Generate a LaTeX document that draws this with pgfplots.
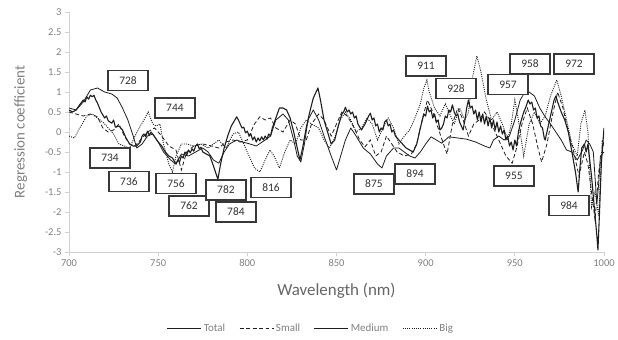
\documentclass[border=0pt]{standalone}
\usepackage{pgfplots}
\pgfplotsset{compat=1.18}
\usepackage{fontspec}
\setmainfont{Carlito}
\definecolor{tickgray}{HTML}{7F7F7F}
\definecolor{axgray}{HTML}{D0D0D0}
\definecolor{ln}{HTML}{1E1E1E}
\definecolor{boxc}{HTML}{383838}
\begin{document}
\begin{tikzpicture}
\useasboundingbox (-69bp,-88bp) rectangle (549bp,252bp);
\begin{axis}[
  at={(0,0)}, anchor=south west,
  scale only axis, width=535bp, height=240bp,
  xmin=700, xmax=1000, ymin=-3, ymax=3,
  xtick={700,750,...,1000},
  ytick={-3,-2.5,...,3},
  xticklabel style={/pgf/number format/set thousands separator={}},
  yticklabel style={/pgf/number format/fixed, /pgf/number format/precision=1},
  /pgf/number format/assume math mode=true,
  axis x line=bottom, axis y line=left,
  axis line style={-, draw=axgray, line width=0.8pt},
  tick style={draw=axgray, line width=0.8pt},
  major tick length=4bp, tick align=outside,
  ticklabel style={font=\fontsize{10.5}{12}\selectfont, text=tickgray},
  xlabel={Wavelength (nm)},
  ylabel={Regression coefficient},
  xlabel style={font=\fontsize{17}{20}\selectfont, text=tickgray!80!black, at={(axis description cs:0.5,-0.16)}, anchor=center},
  ylabel style={font=\fontsize{15}{18}\selectfont, text=tickgray, at={(axis description cs:-0.09,0.5)}, anchor=center},
  legend columns=4,
  legend style={at={(0.452,-0.317)}, anchor=center, draw=none, fill=none,
    font=\fontsize{11}{13}\selectfont, text=tickgray,
    /tikz/every even column/.append style={column sep=12bp}},
  legend image code/.code={\draw[#1] (0bp,0bp) -- (34bp,0bp);},
]
% Total
\addplot[ln, line width=1.1pt, line join=round] coordinates {
(700,0.55)(702,0.5)(704,0.55)(706,0.68)(708,0.8)(709,0.75)(710,0.88)(711,0.82)(712,0.92)(713,0.88)(714,0.92)(715,0.8)(716,0.72)(718,0.5)(720,0.35)(721,0.4)(722,0.28)(724,0.22)(725,0.3)(726,0.12)(728,0.15)(730,0.05)(732,-0.15)(734,-0.3)(736,-0.35)(738,-0.35)(740,-0.25)(741,-0.1)(742,-0.05)(743,-0.12)(744,0.02)(745,-0.08)(746,0.0)(748,-0.12)(750,-0.25)(752,-0.35)(754,-0.5)(756,-0.6)(758,-0.65)(760,-0.8)(761,-0.7)(762,-0.75)(763,-0.6)(764,-0.65)(765,-0.5)(766,-0.58)(767,-0.45)(768,-0.52)(769,-0.42)(770,-0.48)(771,-0.35)(772,-0.3)(773,-0.42)(774,-0.38)(775,-0.5)(777,-0.55)(779,-0.6)(781,-0.85)(782.5,-1.05)(783.5,-1.18)(785,-0.8)(787,-0.4)(789,-0.1)(791,0.15)(793,0.3)(794,0.38)(795,0.3)(796,0.2)(797,0.1)(798,0.12)(799,-0.02)(800,0.02)(801,-0.1)(802,-0.05)(803,-0.2)(804,-0.12)(805,-0.25)(806,-0.15)(807,-0.22)(808,-0.12)(809,-0.2)(810,-0.1)(811,-0.18)(812,-0.05)(813,-0.1)(814,0.1)(816,0.35)(818,0.6)(820,0.6)(822,0.55)(824,0.35)(826,0.0)(828,-0.4)(829.5,-0.7)(831,-0.4)(833,0.1)(835,0.5)(837,0.85)(839.6,1.1)(841,0.8)(843,0.3)(845,0.0)(847,-0.3)(849,-0.2)(851,0.15)(853,0.45)(854,0.5)(855,0.62)(856,0.5)(857,0.55)(858,0.45)(859,0.5)(860,0.35)(861,0.4)(862,0.2)(864,0.05)(866,0.2)(868,0.4)(869,0.47)(870,0.3)(871,0.35)(872,0.15)(873,0.2)(874,0.0)(875,0.1)(876,0.05)(877,0.25)(878,0.3)(879,0.15)(880,0.2)(881,0.0)(882,0.05)(883,-0.1)(885,-0.2)(887,-0.3)(889,-0.4)(891,-0.45)(893,-0.5)(895,-0.3)(897,0.1)(899,0.45)(900,0.4)(901,0.65)(902,0.5)(903,0.55)(904,0.35)(905,0.45)(906,0.25)(907,0.3)(908,0.05)(909,0.1)(910,0.2)(911,0.4)(912,0.35)(913,0.55)(914,0.5)(915,0.68)(916,0.5)(917,0.4)(918,0.45)(919,0.25)(920,0.15)(921,0.05)(922,0.3)(923,0.6)(924,0.8)(925,0.6)(926,0.65)(927,0.45)(928,0.55)(929,0.3)(930,0.5)(931,0.25)(932,0.45)(933,0.2)(934,0.4)(935,0.15)(936,0.35)(937,0.1)(938,0.3)(939,0.05)(940,0.25)(941,0.0)(942,0.15)(943,-0.05)(944,0.05)(945,-0.2)(946,-0.1)(947,-0.35)(948,-0.25)(949,-0.45)(950,-0.2)(951,-0.35)(952,0.0)(953,0.2)(954,0.35)(955,0.5)(956,0.6)(957.5,0.8)(958.5,0.7)(959.5,0.75)(960.5,0.55)(961.5,0.6)(962.5,0.35)(963.5,0.4)(964.5,0.15)(965.5,0.1)(966.5,-0.15)(967,-0.2)(968,0.0)(970,0.4)(972,0.8)(973,0.9)(974,0.75)(976,0.5)(978,0.3)(980,0.0)(982,-0.5)(984,-1.0)(985.5,-1.5)(986.5,-0.9)(987.5,-0.4)(989,-0.3)(990,-0.5)(991,-0.3)(992,-0.7)(993,-1.1)(994,-1.6)(995,-2.1)(996,-2.6)(996.6,-2.95)(997.5,-2.0)(998.5,-0.8)(999.5,-0.2)(1000,0.1)
};
\addlegendentry{Total}
% Small
\addplot[ln, line width=0.8pt, dash pattern=on 4pt off 2.5pt] coordinates {
(700,0.5)(704,0.45)(708,0.4)(712,0.45)(716,0.38)(719,0.1)(722,0.0)(725,0.05)(728,0.2)(731,-0.1)(734,-0.3)(737,-0.35)(740,-0.2)(744,0.0)(748,0.1)(752,-0.1)(756,-0.35)(760,-0.45)(763,-0.95)(766,-0.5)(770,-0.35)(775,-0.3)(780,-0.35)(784,-0.4)(788,-0.25)(792,-0.2)(796,-0.25)(800,-0.2)(804,0.2)(807,0.38)(810,0.3)(813,0.35)(816,0.1)(820,0.0)(824,0.3)(827,0.2)(830,-0.2)(833,-0.2)(836,0.2)(840,0.45)(843,0.3)(847,-0.1)(850,0.2)(853,0.5)(856,0.4)(860,0.1)(863,-0.2)(866,-0.37)(869,-0.2)(872,-0.6)(875,-0.5)(878,-0.1)(881,-0.3)(884,-0.5)(888,-0.6)(892,-0.55)(895,-0.3)(898,0.3)(901,0.8)(904,0.5)(907,0.1)(910,-0.3)(912,-0.55)(915,0.2)(918,0.6)(921,0.3)(924,-0.1)(927,0.2)(930,0.3)(933,0.5)(936,0.3)(939,0.0)(942,-0.3)(945,-0.6)(948.5,-0.78)(951,-0.4)(954,0.2)(957,0.6)(960,0.2)(963,-0.4)(965,-0.75)(968,-0.3)(971,0.4)(974,1.0)(977,0.6)(980,0.0)(983,-0.5)(986,-1.1)(989,-0.5)(991,-0.8)(993,-1.5)(995,-2.2)(997,-1.0)(999,-0.5)(1000,-0.2)
};
\addlegendentry{Small}
% Medium
\addplot[ln, line width=0.8pt, line join=round] coordinates {
(700,0.6)(704,0.55)(708,0.75)(712,1.05)(716,1.1)(720,1.0)(724,0.95)(727,0.85)(730,0.6)(733,0.3)(736,-0.1)(738,-0.4)(741,-0.3)(744,-0.1)(747,-0.05)(750,-0.25)(753,-0.5)(757,-0.7)(760,-0.8)(763,-0.55)(767,-0.6)(771,-0.5)(775,-0.4)(778,-0.5)(781,-0.7)(784,-0.78)(787,-0.5)(790,-0.3)(794,-0.2)(797,-0.25)(800,-0.28)(805,-0.35)(810,-0.2)(813,-0.1)(816,0.3)(820,0.45)(823,0.3)(826,-0.2)(828,-0.6)(830,-0.75)(832,-0.3)(834,0.3)(837,0.55)(840,0.3)(843,-0.1)(847,-0.6)(850,-0.95)(853,-0.5)(855,-0.2)(858,0.1)(861,-0.1)(865,-0.4)(869,-0.55)(873,-0.8)(875.5,-0.9)(878,-0.6)(882,-0.4)(885,-0.4)(888,-0.5)(891,-0.6)(894,-0.65)(897,-0.5)(900,-0.3)(903,-0.12)(906,-0.2)(909,-0.28)(913,-0.12)(918,-0.15)(923,-0.18)(928,-0.25)(933,-0.35)(936,-0.4)(938,-0.2)(941,-0.1)(944,-0.2)(947,-0.1)(950,0.3)(953,0.8)(955,0.95)(958,1.0)(961,0.9)(964,0.6)(967,0.38)(970,0.2)(973,0.0)(976,-0.2)(979,-0.45)(982,-0.5)(985,-0.7)(988,-0.45)(990,-0.2)(992,-0.3)(994,-0.5)(996,-1.8)(997,-1.3)(998,-0.6)(1000,-0.5)
};
\addlegendentry{Medium}
% Big
\addplot[ln, line width=0.9pt, dash pattern=on 1pt off 1.2pt] coordinates {
(700,-0.1)(703,-0.15)(706,0.1)(710,0.4)(713,0.45)(716,0.35)(719,0.25)(722,0.1)(725,-0.05)(728,-0.3)(731,-0.35)(734,-0.4)(737,-0.1)(740,0.15)(742,0.3)(744.4,0.5)(747,0.2)(749,0.15)(751,0.2)(753,-0.3)(756,-0.8)(758,-1.0)(760,-0.6)(763,-0.3)(766,-0.3)(770,-0.35)(774,-0.3)(778,-0.4)(781,-0.3)(784,-0.2)(788,-0.4)(792,-0.05)(795,0.0)(798,-0.3)(801,-0.6)(804,-0.9)(807,-1.0)(810,-0.7)(812.7,-0.45)(815,-0.6)(818,-0.9)(821,-0.5)(824,-0.2)(827,-0.3)(830,0.1)(833,0.3)(836,0.2)(840,0.1)(843,-0.2)(846,-0.4)(849,-0.15)(852,0.3)(855,0.5)(858,0.3)(861,0.0)(864,0.1)(867,0.35)(870,0.2)(873,-0.2)(876,0.1)(879,0.35)(882,0.1)(885,-0.3)(888,-0.1)(891,0.05)(894,0.35)(897,0.7)(899,1.1)(900.7,1.3)(902,1.0)(905,0.6)(908,0.4)(911,0.7)(913,0.5)(916,0.2)(919,0.6)(922,0.3)(924,0.5)(926,1.3)(928.7,1.9)(931,1.5)(934,0.8)(937,0.3)(940,0.5)(943,0.2)(946,-0.2)(948,0.2)(950,0.8)(952,0.3)(955,-0.6)(958,0.2)(961,0.5)(964,0.2)(967,0.4)(970,0.9)(973.5,1.3)(976,0.9)(979,0.3)(982,-0.3)(985,-0.6)(987,0.2)(989.3,0.55)(991,0.0)(993,-1.87)(995,-1.5)(997,-2.1)(999,-0.2)(1000,-0.3)
};
\addlegendentry{Big}
\tikzset{lab/.style={draw=boxc, line width=1.3pt, fill=white, minimum width=40bp, minimum height=20bp, inner sep=0pt, font=\fontsize{11.5}{13}\selectfont, text=black!80}}
\node[lab] at (axis cs:733.1,1.28) {728};
\node[lab] at (axis cs:759.4,0.6) {744};
\node[lab] at (axis cs:723,-0.65) {734};
\node[lab] at (axis cs:733.6,-1.23) {736};
\node[lab] at (axis cs:760,-1.28) {756};
\node[lab] at (axis cs:767.3,-1.85) {762};
\node[lab] at (axis cs:788,-1.45) {782};
\node[lab] at (axis cs:793.6,-2.0) {784};
\node[lab] at (axis cs:813.3,-1.38) {816};
\node[lab] at (axis cs:871,-1.3) {875};
\node[lab] at (axis cs:894,-1.05) {894};
\node[lab] at (axis cs:949.5,-1.1) {955};
\node[lab] at (axis cs:980.4,-1.83) {984};
\node[lab] at (axis cs:900.2,1.65) {911};
\node[lab] at (axis cs:917,1.08) {928};
\node[lab] at (axis cs:946.2,1.18) {957};
\node[lab] at (axis cs:958.5,1.7) {958};
\node[lab] at (axis cs:983.2,1.7) {972};
\end{axis}
\end{tikzpicture}
\end{document}
